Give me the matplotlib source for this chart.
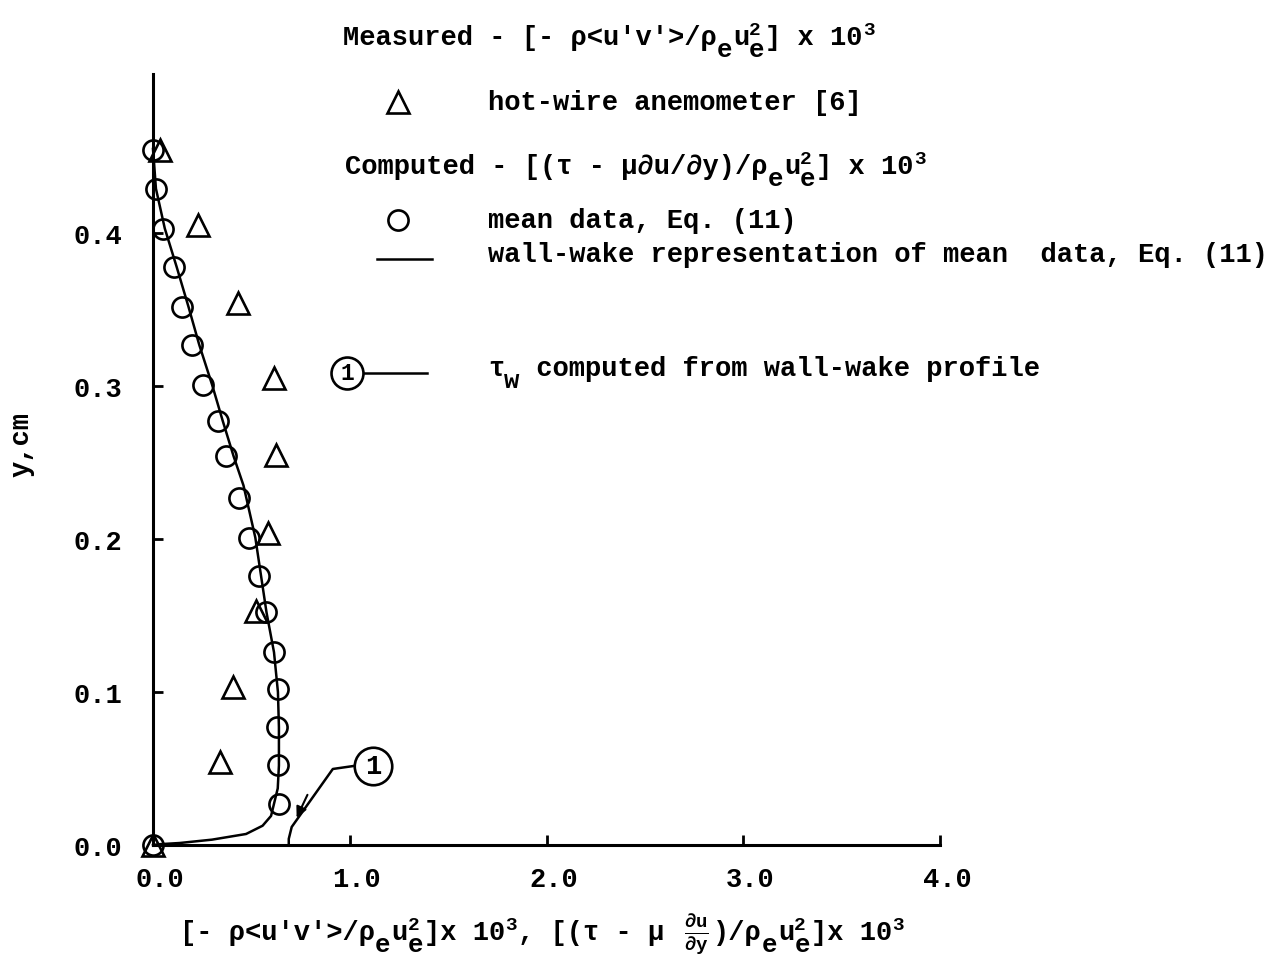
import matplotlib
matplotlib.use("Agg")
import matplotlib.pyplot as plt
from matplotlib.lines import Line2D
from matplotlib.transforms import ScaledTranslation

plt.rcParams['font.family'] = ['Liberation Mono', 'DejaVu Sans Mono', 'DejaVu Sans']
plt.rcParams['font.weight'] = 'bold'
plt.rcParams['mathtext.default'] = 'regular'

# ---------------- data ----------------
# Measured (hot-wire anemometer)  -rho<u'v'>/rho_e u_e^2 x 10^3
tri_x = [0.0, 0.035, 0.229, 0.433, 0.613, 0.625, 0.584, 0.526, 0.408, 0.343]
tri_y = [0.0, 0.454, 0.405, 0.354, 0.305, 0.255, 0.204, 0.153, 0.103, 0.054]

# Computed from mean data, Eq. (11)
circ_x = [0.0, 0.0, 0.013, 0.052, 0.107, 0.145, 0.200, 0.253, 0.330, 0.370,
          0.435, 0.490, 0.540, 0.575, 0.615, 0.633, 0.630, 0.635, 0.640]
circ_y = [0.0, 0.454, 0.429, 0.403, 0.378, 0.352, 0.327, 0.301, 0.277, 0.254,
          0.227, 0.201, 0.176, 0.152, 0.126, 0.102, 0.077, 0.052, 0.027]

# Wall-wake representation of mean data
wake_x = [0.0, 0.015, 0.06, 0.12, 0.18, 0.235, 0.30, 0.355, 0.41, 0.46, 0.52,
          0.577, 0.615, 0.635, 0.64, 0.64, 0.634, 0.60, 0.557, 0.473, 0.30,
          0.135, 0.03, 0.0]
wake_y = [0.455, 0.429, 0.403, 0.378, 0.352, 0.327, 0.301, 0.277, 0.254, 0.235,
          0.201, 0.152, 0.126, 0.100, 0.077, 0.052, 0.037, 0.019, 0.0126,
          0.0072, 0.0035, 0.0013, 0.0005, 0.0]

# tau_w computed from wall-wake profile
tau_w = 0.69

x_ticks = [0.0, 1.0, 2.0, 3.0, 4.0]
x_ticklabels = ["0.0", "1.0", "2.0", "3.0", "4.0"]
y_ticks = [0.0, 0.1, 0.2, 0.3, 0.4]
y_ticklabels = ["0.0", "0.1", "0.2", "0.3", "0.4"]

# ---------------- figure ----------------
W, H = 1275, 970
fig = plt.figure(figsize=(W / 100, H / 100), dpi=100)
ax = fig.add_axes([153 / W, (H - 846) / H, (940 - 153) / W, (846 - 75) / H])


def fx(px):
    return px / W


def fy(py):
    return 1 - py / H


FS = 19.5
DROP = 12   # subscript drop (px)
RISE = 10   # superscript rise (px)


def typewrite(x0, y0, segs, fs=FS):
    """Lay out typewriter-style text cell by cell (pixel coords)."""
    adv = 0.6 * fs * 100 / 72
    x = x0
    for kind, s in segs:
        if kind == 'n':
            fig.text(fx(x), fy(y0), s, fontsize=fs, ha='left', va='baseline')
            x += len(s) * adv
        elif kind == 'sub':
            fig.text(fx(x), fy(y0 + DROP), s, fontsize=fs * 0.95,
                     ha='left', va='baseline')
            x += len(s) * adv
        elif kind == 'sup':
            fig.text(fx(x), fy(y0 - RISE), s, fontsize=fs * 0.72,
                     ha='left', va='baseline')
            x += len(s) * adv * 0.8
        elif kind == 'subsup':
            sub, sup = s
            fig.text(fx(x), fy(y0 + DROP), sub, fontsize=fs * 0.95,
                     ha='left', va='baseline')
            fig.text(fx(x), fy(y0 - RISE), sup, fontsize=fs * 0.72,
                     ha='left', va='baseline')
            x += adv
        elif kind == 'math':
            tex, ncell = s
            fig.text(fx(x + ncell * adv / 2), fy(y0 - 6), tex, fontsize=fs,
                     ha='center', va='center')
            x += ncell * adv
    return x


lw_line = 1.8
ax.plot(wake_x, wake_y, color='black', lw=lw_line, clip_on=False, zorder=3)
ax.plot(circ_x, circ_y, linestyle='none', marker='o', ms=14.5, mfc='none',
        mec='black', mew=1.9, clip_on=False, zorder=4)
ax.plot(tri_x, tri_y, linestyle='none', marker='^', ms=16, mfc='none',
        mec='black', mew=1.9, clip_on=False, zorder=4)

ax.set_xlim(0, 4.0)
ax.set_ylim(0, 0.504)
for s in ['top', 'right']:
    ax.spines[s].set_visible(False)
for s in ['left', 'bottom']:
    ax.spines[s].set_linewidth(2.2)
ax.set_xticks(x_ticks)
ax.set_xticklabels(x_ticklabels)
ax.set_yticks(y_ticks)
ax.set_yticklabels(y_ticklabels)
ax.tick_params(direction='in', length=7, width=2, labelsize=FS)
ax.tick_params(axis='x', pad=15)
ax.tick_params(axis='y', pad=22)
shift = ScaledTranslation(7 / 100, 0, fig.dpi_scale_trans)
for lab in ax.get_xticklabels():
    lab.set_transform(lab.get_transform() + shift)

# tau_w annotation: leader from circled "1" down to the axis
c1 = (tau_w + 0.427, 0.0516)
elbow = (tau_w + 0.224, 0.0497)
knee = (tau_w + 0.015, 0.0118)
ax.plot([c1[0] - 0.1, elbow[0], knee[0], tau_w, tau_w],
        [c1[1], elbow[1], knee[1], 0.004, 0.0],
        color='black', lw=1.8, clip_on=False, zorder=3)
ax.annotate('', xy=(knee[0] + 0.025, knee[1] + 0.006),
            xytext=(knee[0] + 0.08, knee[1] + 0.021),
            arrowprops=dict(arrowstyle='-|>', color='black', lw=1.5,
                            mutation_scale=16, shrinkA=0, shrinkB=0))
ax.plot([c1[0]], [c1[1]], marker='o', ms=27, mfc='white', mec='black',
        mew=1.9, clip_on=False, zorder=5)
ax.text(c1[0], c1[1], '1', ha='center', va='center', fontsize=FS, zorder=6)

# ---------------- legend (top) ----------------
typewrite(343, 45, [('n', "Measured - [- ρ<u'v'>/ρ"), ('sub', 'e'), ('n', 'u'),
                    ('subsup', ('e', '2')), ('n', '] x 10'), ('sup', '3')])
fig.add_artist(Line2D([fx(398)], [fy(103)], marker='^', ms=16, mfc='none',
                      mec='black', mew=1.9, linestyle='none'))
typewrite(488, 110, [('n', "hot-wire anemometer [6]")])

typewrite(345, 174, [('n', "Computed - [(τ - μ∂u/∂y)/ρ"), ('sub', 'e'),
                     ('n', 'u'), ('subsup', ('e', '2')), ('n', '] x 10'),
                     ('sup', '3')])
fig.add_artist(Line2D([fx(398)], [fy(221)], marker='o', ms=14.5, mfc='none',
                      mec='black', mew=1.9, linestyle='none'))
typewrite(488, 228, [('n', "mean data, Eq. (11)")])

WW_Y = 262
fig.add_artist(Line2D([fx(377), fx(432)], [fy(WW_Y - 2), fy(WW_Y - 2)],
                      color='black', lw=1.8))
typewrite(488, WW_Y, [('n', "wall-wake representation of mean  data, Eq. (11)")])

fig.add_artist(Line2D([fx(364), fx(427)], [fy(374), fy(374)], color='black',
                      lw=1.8))
fig.add_artist(Line2D([fx(347)], [fy(374)], marker='o', ms=23, mfc='white',
                      mec='black', mew=1.9, linestyle='none'))
fig.text(fx(347), fy(374), '1', fontsize=FS - 3, ha='center', va='center')
typewrite(488, 376, [('n', "τ"), ('sub', 'w'), ('n', " computed from wall-wake profile")])

# ---------------- axis labels ----------------
fig.text(fx(22), fy(445), "y,cm", rotation=90, fontsize=FS,
         ha='center', va='center')
typewrite(180, 940, [('n', "[- ρ<u'v'>/ρ"), ('sub', 'e'), ('n', 'u'),
                     ('subsup', ('e', '2')), ('n', ']x 10'), ('sup', '3'),
                     ('n', ', [(τ - μ '),
                     ('math', (r"$\frac{\partial u}{\partial y}$", 2)),
                     ('n', ')/ρ'), ('sub', 'e'), ('n', 'u'),
                     ('subsup', ('e', '2')), ('n', ']x 10'), ('sup', '3')])

fig.savefig("out.png", dpi=100)
